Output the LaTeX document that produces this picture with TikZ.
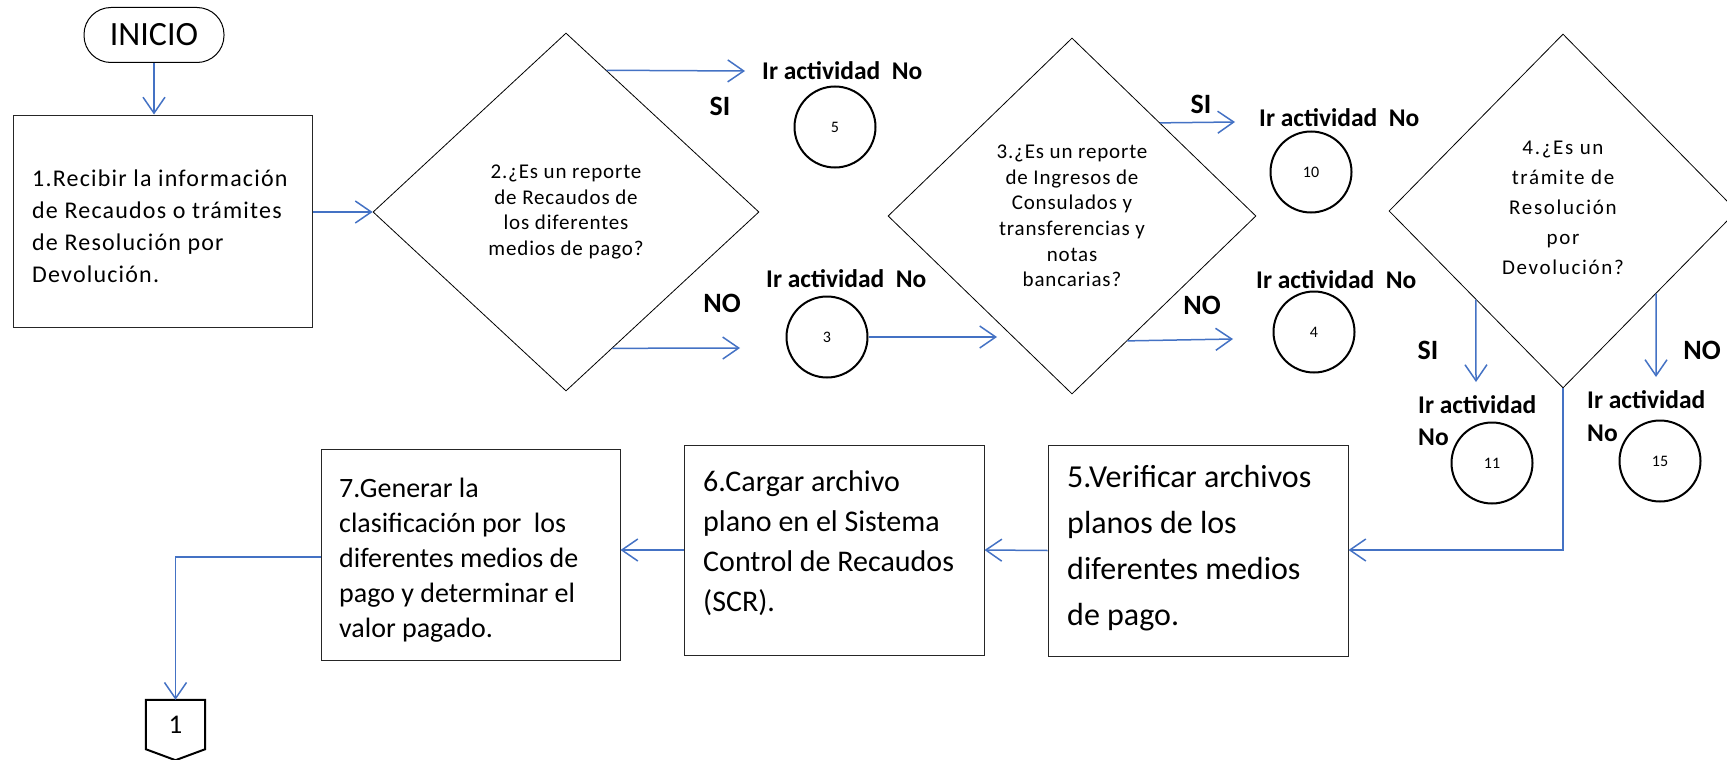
\documentclass[tikz,border=0pt]{standalone}
\usepackage{fontspec}
\setmainfont{Carlito}
\newfontfamily\spc[LetterSpace=4]{Carlito}
\newfontfamily\spcb[LetterSpace=5]{Carlito}
\newfontfamily\spcw[LetterSpace=8]{Carlito}
\usetikzlibrary{shapes.geometric,arrows.meta,calc}
\definecolor{flowblue}{RGB}{68,114,196}
\begin{document}
\begin{tikzpicture}[x=1pt,y=-1pt,
  flow/.style={draw=flowblue,line width=1.5pt,-{Straight Barb[length=16pt,width=22pt,line width=1.5pt]}},
  procbox/.style={draw=black!85,line width=1pt,rectangle,inner sep=0pt},
  boxtext/.style={inner sep=0pt,align=left,anchor=west},
  decision/.style={draw=black,line width=0.8pt,diamond,inner sep=0pt},
  dtext/.style={inner sep=0pt,align=center,font=\spc\fontsize{21}{25.6}\selectfont},
  conn/.style={draw=black,line width=2pt,circle,minimum size=81pt,inner sep=0pt,font=\fontsize{16}{18}\selectfont},
  golabel/.style={inner sep=0pt,anchor=base west,font=\bfseries\fontsize{25.5}{28}\selectfont},
  yesno/.style={inner sep=0pt,font=\bfseries\fontsize{28}{30}\selectfont}]
\useasboundingbox (0,0) rectangle (1727,760);

% start
\node[draw=black,line width=1pt,rectangle,rounded corners=27pt,minimum width=140pt,minimum height=55pt,inner sep=0pt,font=\fontsize{34}{36}\selectfont] (ini) at (154,35) {INICIO};

% box 1
\node[procbox,minimum width=299pt,minimum height=212pt] (b1) at (162.5,221) {};
\node[boxtext,font=\spcb\fontsize{24}{32}\selectfont] (b1t) at (32,226) {1.Recibir la información\\de Recaudos o trámites\\de Resolución por\\Devolución.};

% diamond 1
\node[decision,minimum width=386pt,minimum height=358pt] (d1) at (566,212) {};
\node[dtext] (d1t) at (566,212) {2.¿Es un reporte\\de Recaudos de\\los diferentes\\medios de pago?};

% diamond 2
\node[decision,minimum width=368pt,minimum height=356pt] (d2) at (1072,216) {};
\node[dtext] (d2t) at (1072,216) {3.¿Es un reporte\\de Ingresos de\\Consulados y\\transferencias y\\notas\\bancarias?};

% diamond 3
\node[decision,minimum width=348pt,minimum height=354pt] (d3) at (1563,211) {};
\node[dtext,font=\spcw\fontsize{21}{30}\selectfont] (d3t) at (1563,208) {4.¿Es un\\trámite de\\Resolución\\por\\Devolución?};

% connectors (circles)
\node[conn] (c5) at (835,127) {5};
\node[conn] (c3) at (827,337) {3};
\node[conn] (c10) at (1311,172) {10};
\node[conn] (c4) at (1314,332) {4};
\node[conn] (c11) at (1492,463) {11};
\node[conn] (c15) at (1660,461) {15};

% go-to labels
\node[golabel] (l5) at (762,80) {Ir actividad~ No};
\node[golabel] (l3) at (766,287) {Ir actividad~ No};
\node[golabel] (l10) at (1259,126) {Ir actividad~ No};
\node[golabel] (l4) at (1256,288) {Ir actividad~ No};
\node[golabel] (l11a) at (1418,413) {Ir actividad};
\node[golabel] (l11b) at (1418,445) {No};
\node[golabel] (l15a) at (1587,408) {Ir actividad};
\node[golabel] (l15b) at (1587,441) {No};

% yes / no labels
\node[yesno] (si1) at (720,106) {SI};
\node[yesno] (no1) at (722,303) {NO};
\node[yesno] (si2) at (1201,104) {SI};
\node[yesno] (no2) at (1202,305) {NO};
\node[yesno] (si3) at (1428,350) {SI};
\node[yesno] (no3) at (1702,350) {NO};

% process boxes bottom row
\node[procbox,minimum width=300pt,minimum height=211pt] (b5) at (1198,550.5) {};
\node[boxtext,font=\fontsize{32}{46}\selectfont] (b5t) at (1067,548) {5.Verificar archivos\\planos de los\\diferentes medios\\de pago.};
\node[procbox,minimum width=300pt,minimum height=210pt] (b6) at (834,550) {};
\node[boxtext,font=\fontsize{30}{40}\selectfont] (b6t) at (703,543) {6.Cargar archivo\\plano en el Sistema\\Control de Recaudos\\(SCR).};
\node[procbox,minimum width=299pt,minimum height=211pt] (b7) at (470.5,554.5) {};
\node[boxtext,font=\fontsize{28}{35}\selectfont] (b7t) at (339,560) {7.Generar la\\clasificación por~ los\\diferentes medios de\\pago y determinar el\\valor pagado.};

% off-page connector
\node[inner sep=0pt,minimum width=59pt,minimum height=49pt,font=\fontsize{27}{30}\selectfont] (p1) at (175.5,724.5) {1};
\draw[black,line width=2pt,line join=miter] (p1.north west) -- (p1.north east) -- (p1.south east) -- ($(p1.south)+(0,11)$) -- (p1.south west) -- cycle;

% free arrow ends
\coordinate (si1e) at (745,71);
\coordinate (no1e) at (740,348);
\coordinate (si2e) at (1235,122);
\coordinate (no2e) at (1233,339);
\coordinate (si3e) at (1476,382);
\coordinate (no3e) at (1656,377);
\coordinate (d2in) at (997,337);

% flows
\draw[flow] (ini.south) -- (ini.south |- b1.north);
\draw[flow] (b1.east |- d1.west) -- (d1.west);
\draw[flow] ($(d1.north)!0.21!(d1.east)$) -- (si1e);
\draw[flow] ($(d1.south)!0.24!(d1.east)$) -- (no1e);
\draw[flow] (c3.east) -- (d2in);
\draw[flow] ($(d2.north)!0.478!(d2.east)$) -- (si2e);
\draw[flow] ($(d2.south)!0.3!(d2.east)$) -- (no2e);
\draw[flow] ($(d3.west)!0.5!(d3.south)$) -- (si3e);
\draw[flow] ($(d3.east)!0.466!(d3.south)$) -- (no3e);
\draw[flow] (d3.south) -- (d3.south |- 0,550) -- (b5.east |- 0,550);
\draw[flow] (b5.west) -- (b6.east);
\draw[flow] (b6.west) -- (b6.west -| b7.east);
\draw[flow] (b7.west |- 0,557) -| (p1.north);
\end{tikzpicture}
\end{document}
